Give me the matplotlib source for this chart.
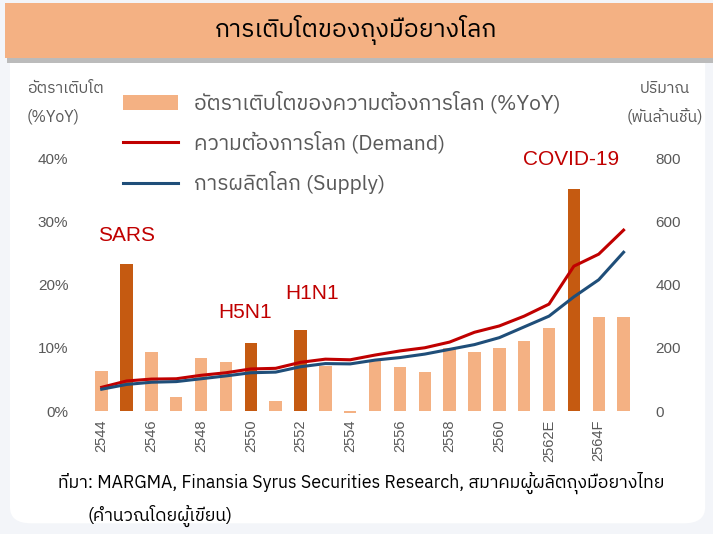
import matplotlib
matplotlib.use("Agg")
import matplotlib.pyplot as plt
import numpy as np
from matplotlib import font_manager
from matplotlib.ft2font import FT2Font
from matplotlib.patches import FancyBboxPatch, Rectangle, Patch
from matplotlib.lines import Line2D

# find a font that has Thai glyphs
thai_fonts = []
for f in font_manager.fontManager.ttflist:
    try:
        if 0x0E01 in FT2Font(f.fname).get_charmap():
            thai_fonts.append(f.name)
    except Exception:
        pass
thai_fonts = sorted(set(thai_fonts), key=lambda n: (0 if "Sans" in n else 1, n))
plt.rcParams['font.family'] = thai_fonts[:1] + ['DejaVu Sans']
latin = ['Liberation Sans', 'DejaVu Sans']

# data
years = ['2544', '2545', '2546', '2547', '2548', '2549', '2550', '2551', '2552', '2553', '2554',
         '2555', '2556', '2557', '2558', '2559', '2560', '2561', '2562E', '2563', '2564F', '2565F']
growth = [6.3, 23.3, 9.4, 2.2, 8.4, 7.8, 10.8, 1.6, 12.8, 7.1, -0.3,
          7.9, 6.9, 6.1, 10.0, 9.3, 9.9, 11.0, 13.2, 35.1, 14.9, 14.9]
demand = [75, 95, 101, 102, 113, 121, 133, 135, 154, 164, 162,
          177, 190, 200, 218, 249, 269, 300, 338, 458, 496, 572]
supply = [69, 84, 91, 93, 102, 111, 121, 123, 140, 150, 149,
          161, 169, 180, 195, 210, 232, 266, 300, 361, 415, 502]
highlight = ['2545', '2550', '2552', '2563']
tick_labels = ['2544', '2546', '2548', '2550', '2552', '2554', '2556', '2558', '2560', '2562E', '2564F']
events = {'SARS': (1, 26.3), 'H5N1': (5.75, 14.0), 'H1N1': (8.45, 17.0), 'COVID-19': (18.9, 38.2)}

light = '#F4B183'
dark = '#C55A11'
red = '#C00000'
blue = '#1F4E79'
grey = '#595959'

fig = plt.figure(figsize=(7.13, 5.34), dpi=100)
fig.patch.set_facecolor('#F3F5F9')

# white card and title banner (behind the axes)
card = FancyBboxPatch((0.014, 0.02), 0.975, 0.9, boxstyle="round,pad=0,rounding_size=0.03",
                      transform=fig.transFigure, facecolor='white', edgecolor='none', zorder=-3)
fig.patches.append(card)
shadow = Rectangle((0.01, 0.882), 0.99, 0.01, transform=fig.transFigure,
                   facecolor='#BBBBBB', edgecolor='none', zorder=-2)
fig.patches.append(shadow)
banner = Rectangle((0.007, 0.891), 0.993, 0.103, transform=fig.transFigure,
                   facecolor=light, edgecolor='none', zorder=-1)
fig.patches.append(banner)
fig.text(0.5, 0.943, 'การเติบโตของถุงมือยางโลก', ha='center', va='center', fontsize=17.8, color='black')

ax = fig.add_axes([0.1252, 0.2303, 0.7668, 0.4738])
ax.set_facecolor('none')
x = np.arange(len(years))
colors = [dark if y in highlight else light for y in years]
ax.bar(x, growth, width=0.5, color=colors, clip_on=False, zorder=2)
ax.set_xlim(-0.5, len(years) - 0.5)
ax.set_ylim(0, 40)
ax.set_yticks([0, 10, 20, 30, 40])
ax.set_yticklabels(['0%', '10%', '20%', '30%', '40%'], family=latin)
ax.set_xticks(x[::2])
ax.set_xticklabels(tick_labels, rotation=90, family=latin)
ax.tick_params(axis='both', length=0, labelsize=11, colors=grey)
ax.tick_params(axis='x', labelsize=10.5, pad=6)
ax.tick_params(axis='y', pad=15)
for s in ax.spines.values():
    s.set_visible(False)

ax2 = ax.twinx()
ax2.plot(x, demand, color=red, lw=2.2, zorder=3)
ax2.plot(x, supply, color=blue, lw=2.2, zorder=3)
ax2.set_ylim(0, 800)
ax2.set_yticks([0, 200, 400, 600, 800])
ax2.set_yticklabels(['0', '200', '400', '600', '800'], family=latin)
ax2.tick_params(axis='y', length=0, labelsize=11, colors=grey, pad=14)
for s in ax2.spines.values():
    s.set_visible(False)

for name, (xi, yv) in events.items():
    ax.text(xi, yv, name, ha='center', va='bottom', fontsize=15, color=red, family=latin, zorder=4)

fig.text(0.038, 0.835, 'อัตราเติบโต', ha='left', va='center', fontsize=11.4, color=grey)
fig.text(0.038, 0.781, '(%YoY)', ha='left', va='center', fontsize=11.4, color=grey)
fig.text(0.932, 0.835, 'ปริมาณ', ha='center', va='center', fontsize=11.4, color=grey)
fig.text(0.932, 0.781, '(พันล้านชิ้น)', ha='center', va='center', fontsize=11.4, color=grey)

handles = [Patch(facecolor=light, edgecolor='none'),
           Line2D([], [], color=red, lw=2.2),
           Line2D([], [], color=blue, lw=2.2)]
labels = ['อัตราเติบโตของความต้องการโลก (%YoY)', 'ความต้องการโลก (Demand)', 'การผลิตโลก (Supply)']
leg = fig.legend(handles, labels, loc='upper left', bbox_to_anchor=(0.172, 0.829), frameon=False,
                 fontsize=15.2, handlelength=2.6, handletextpad=0.8, labelspacing=0.83,
                 borderaxespad=0, borderpad=0)
for t in leg.get_texts():
    t.set_color(grey)

fig.text(0.081, 0.096, 'ที่มา: MARGMA, Finansia Syrus Securities Research, สมาคมผู้ผลิตถุงมือยางไทย',
         ha='left', va='center', fontsize=12.8, color='black')
fig.text(0.123, 0.034, '(คำนวณโดยผู้เขียน)', ha='left', va='center', fontsize=12.8, color='black')

fig.savefig('out.png', dpi=100, facecolor=fig.get_facecolor())
